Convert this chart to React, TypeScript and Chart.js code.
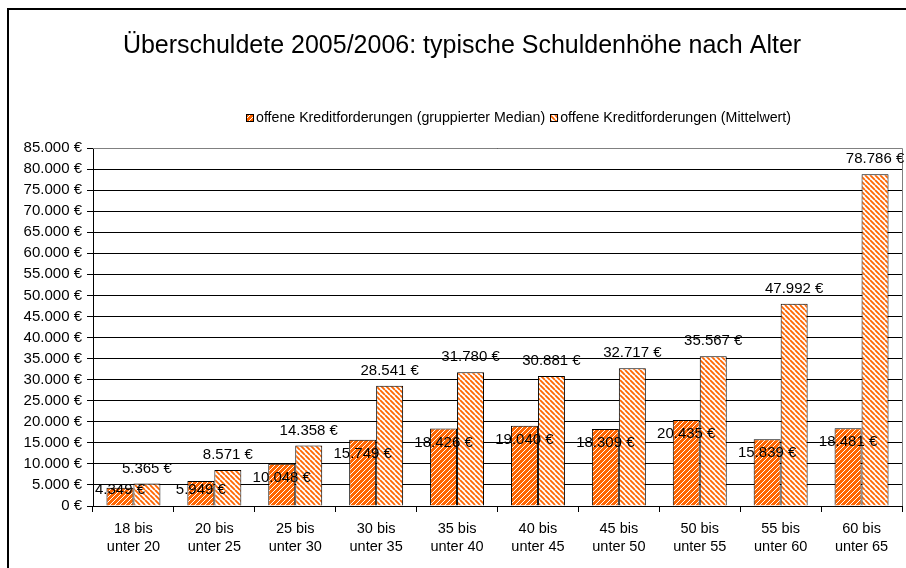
import React, { useEffect, useRef } from 'react';
import { Chart, registerables } from 'chart.js';

Chart.register(...registerables);

const FONT = "'Liberation Sans', Arial, sans-serif";
const ORANGE = '#FF6600';

const titleText = 'Überschuldete 2005/2006: typische Schuldenhöhe nach Alter';
const categories = [
  ['18 bis', 'unter 20'],
  ['20 bis', 'unter 25'],
  ['25 bis', 'unter 30'],
  ['30 bis', 'unter 35'],
  ['35 bis', 'unter 40'],
  ['40 bis', 'unter 45'],
  ['45 bis', 'unter 50'],
  ['50 bis', 'unter 55'],
  ['55 bis', 'unter 60'],
  ['60 bis', 'unter 65'],
];
const seriesLabels = [
  'offene Kreditforderungen (gruppierter Median)',
  'offene Kreditforderungen (Mittelwert)',
];
const medianValues = [4349, 5949, 10048, 15749, 18426, 19040, 18309, 20435, 15839, 18481];
const meanValues = [5365, 8571, 14358, 28541, 31780, 30881, 32717, 35567, 47992, 78786];
const yMin = 0;
const yMax = 85000;
const yStep = 5000;

function fmt(v: number): string {
  return String(Math.round(v)).replace(/\B(?=(\d{3})+(?!\d))/g, '.') + ' €';
}

function makePattern(
  ctx: CanvasRenderingContext2D,
  bg: string,
  fg: string,
  dir: '/' | '\\',
  lw: number,
  size: number
): CanvasPattern {
  const c = document.createElement('canvas');
  c.width = size;
  c.height = size;
  const x = c.getContext('2d')!;
  x.fillStyle = bg;
  x.fillRect(0, 0, size, size);
  x.strokeStyle = fg;
  x.lineWidth = lw;
  x.beginPath();
  for (const k of [-size, 0, size]) {
    if (dir === '/') {
      x.moveTo(k, size);
      x.lineTo(k + size, 0);
    } else {
      x.moveTo(k, 0);
      x.lineTo(k + size, size);
    }
  }
  x.stroke();
  return ctx.createPattern(c, 'repeat')!;
}

export default function App() {
  const ref = useRef<HTMLCanvasElement>(null);

  useEffect(() => {
    const canvas = ref.current!;
    const ctx = canvas.getContext('2d')!;
    const medianPattern = makePattern(ctx, ORANGE, '#ffffff', '/', 1.0, 5);
    const meanPattern = makePattern(ctx, '#ffffff', ORANGE, '\\', 1.8, 5);
    const patterns = [medianPattern, meanPattern];

    const backgroundPlugin = {
      id: 'bgframe',
      beforeDraw(chart: any) {
        const c = chart.ctx;
        c.save();
        c.fillStyle = '#ffffff';
        c.fillRect(0, 0, chart.width, chart.height);
        c.strokeStyle = '#000';
        c.lineWidth = 2;
        c.strokeRect(8, 9, chart.width + 50, chart.height + 50);
        c.fillStyle = '#000';
        c.font = `25px ${FONT}`;
        c.textAlign = 'center';
        c.textBaseline = 'middle';
        c.fillText(titleText, 462, 46.5);
        c.restore();
      },
    };

    const plotFramePlugin = {
      id: 'plotframe',
      beforeDatasetsDraw(chart: any) {
        const { top, right, left, bottom } = chart.chartArea;
        const c = chart.ctx;
        c.save();
        c.strokeStyle = '#808080';
        c.lineWidth = 1;
        c.beginPath();
        const t = Math.round(top) + 0.5;
        const r = Math.round(right) + 0.5;
        c.moveTo(left, t);
        c.lineTo(r, t);
        c.lineTo(r, bottom);
        c.stroke();
        c.restore();
      },
    };

    const labelPlugin = {
      id: 'valuelabels',
      afterDatasetsDraw(chart: any) {
        const c = chart.ctx;
        c.save();
        c.font = `15px ${FONT}`;
        c.fillStyle = '#000';
        c.textAlign = 'center';
        c.textBaseline = 'middle';
        const m0 = chart.getDatasetMeta(0);
        m0.data.forEach((el: any, i: number) => {
          const y = Math.min(el.y + 14, chart.chartArea.bottom - 16);
          c.fillText(fmt(medianValues[i]), el.x, y);
        });
        const m1 = chart.getDatasetMeta(1);
        m1.data.forEach((el: any, i: number) => {
          c.fillText(fmt(meanValues[i]), el.x, el.y - 15);
        });
        c.restore();
      },
    };

    const legendPlugin = {
      id: 'customlegend',
      afterDraw(chart: any) {
        const c = chart.ctx;
        c.save();
        c.font = `14.2px ${FONT}`;
        c.textBaseline = 'middle';
        c.textAlign = 'left';
        const box = 8;
        const gapBoxText = 2;
        const gapItems = 5;
        const widths = seriesLabels.map((s) => c.measureText(s).width);
        const total =
          widths.reduce((a, b) => a + b, 0) + seriesLabels.length * (box + gapBoxText) + gapItems;
        let x = 518.5 - total / 2;
        const yc = 118;
        seriesLabels.forEach((s, i) => {
          c.fillStyle = patterns[i];
          c.fillRect(x, yc - box / 2, box, box);
          c.strokeStyle = '#000';
          c.lineWidth = 1;
          c.strokeRect(Math.round(x) + 0.5, Math.round(yc - box / 2) + 0.5, box - 1, box - 1);
          x += box + gapBoxText;
          c.fillStyle = '#000';
          c.fillText(s, x, yc);
          x += widths[i] + gapItems;
        });
        c.restore();
      },
    };

    const chart = new Chart(canvas, {
      type: 'bar',
      data: {
        labels: categories,
        datasets: [
          {
            label: seriesLabels[0],
            data: medianValues,
            backgroundColor: medianPattern,
            borderColor: '#000',
            borderWidth: 1,
            categoryPercentage: 0.667,
            barPercentage: 1,
          },
          {
            label: seriesLabels[1],
            data: meanValues,
            backgroundColor: meanPattern,
            borderColor: '#000',
            borderWidth: 1,
            categoryPercentage: 0.667,
            barPercentage: 1,
          },
        ],
      },
      options: {
        responsive: false,
        animation: false,
        events: [],
        layout: { padding: { left: 0, right: 18, top: 148, bottom: 0 } },
        plugins: {
          legend: { display: false },
          tooltip: { enabled: false },
          title: { display: false },
        },
        scales: {
          x: {
            grid: { offset: true, drawOnChartArea: false, drawTicks: true, tickLength: 6, color: '#000' },
            border: { color: '#000' },
            ticks: {
              color: '#000',
              font: { family: FONT, size: 14.5, lineHeight: 1.2 },
              padding: 8.5,
              maxRotation: 0,
              autoSkip: false,
            },
            afterFit: (s: any) => {
              s.height = 62;
            },
          },
          y: {
            min: yMin,
            max: yMax,
            ticks: {
              stepSize: yStep,
              color: '#000',
              font: { family: FONT, size: 15 },
              padding: 5,
              callback: (v: any) => fmt(Number(v)),
            },
            grid: { color: '#000', tickLength: 6, lineWidth: 1 },
            border: { color: '#000' },
            afterFit: (s: any) => {
              s.width = 93;
            },
          },
        },
      },
      plugins: [backgroundPlugin, plotFramePlugin, labelPlugin, legendPlugin],
    } as any);

    return () => chart.destroy();
  }, []);

  return (
    <div style={{ position: 'fixed', left: 0, top: 0, width: 920, height: 568, overflow: 'hidden' }}>
      <canvas ref={ref} width={920} height={568} style={{ display: 'block', width: 920, height: 568 }} />
    </div>
  );
}
